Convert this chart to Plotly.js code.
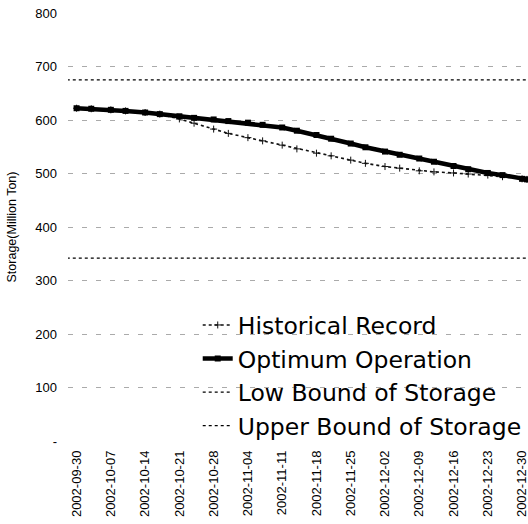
<!DOCTYPE html>
<html>
<head>
<meta charset="utf-8">
<script src="https://cdn.plot.ly/plotly-3.0.1.min.js"></script>
<style>html,body{margin:0;padding:0;background:#fff;}#chart{width:528px;height:524px;}</style>
</head>
<body>
<div id="chart"></div>
<script>
const dates = ['2002-09-30','2002-10-03','2002-10-07','2002-10-10','2002-10-14','2002-10-17','2002-10-21','2002-10-24','2002-10-28','2002-10-31','2002-11-04','2002-11-07','2002-11-11','2002-11-14','2002-11-18','2002-11-21','2002-11-25','2002-11-28','2002-12-02','2002-12-05','2002-12-09','2002-12-12','2002-12-16','2002-12-19','2002-12-23','2002-12-26','2002-12-30','2002-12-31'];
const historical = [622,621,619,617,614,611,602,594,583,575,567,561,553,546,538,533,525,519,513,510,505,503,501,499,497,494,490,489];
const optimum = [622,621,619,617,614,611,607,604,601,598,595,591,586,580,572,565,556,549,541,535,528,522,514,508,501,497,490,489];
const boundDates = ['2002-09-28','2002-12-31'];
const lowBound = [342,342];
const upperBound = [675,675];
const tickDates = ['2002-09-30','2002-10-07','2002-10-14','2002-10-21','2002-10-28','2002-11-04','2002-11-11','2002-11-18','2002-11-25','2002-12-02','2002-12-09','2002-12-16','2002-12-23','2002-12-30'];
const yTickVals = [0,100,200,300,400,500,600,700,800];
const yTickText = ['-','100','200','300','400','500','600','700','800'];

const traces = [
  {x: dates, y: historical, name: 'Historical Record', mode: 'lines+markers', type: 'scatter',
   line: {color: '#111', width: 1.6, dash: 'dot'},
   marker: {symbol: 'cross-thin', size: 5, line: {color: '#111', width: 1}}},
  {x: dates, y: optimum, name: 'Optimum Operation', mode: 'lines+markers', type: 'scatter',
   line: {color: '#000', width: 4.5},
   marker: {symbol: 'square', size: 6, color: '#000'}},
  {x: boundDates, y: lowBound, name: 'Low Bound of Storage', mode: 'lines', type: 'scatter',
   line: {color: '#000', width: 1.2, dash: 'dot'}},
  {x: boundDates, y: upperBound, name: 'Upper Bound of Storage', mode: 'lines', type: 'scatter',
   line: {color: '#000', width: 1.2, dash: 'dot'}}
];

const layout = {
  width: 528, height: 524,
  margin: {l: 68, r: 0, t: 13, b: 83},
  paper_bgcolor: '#fff', plot_bgcolor: '#fff',
  font: {family: 'Liberation Sans, Arial, sans-serif', color: '#000'},
  showlegend: true,
  legend: {x: 0.282, y: 0.322, xanchor: 'left', yanchor: 'top', bgcolor: 'rgba(0,0,0,0)',
           font: {family: 'DejaVu Sans, sans-serif', size: 23.5, color: '#000'}, tracegroupgap: 0},
  xaxis: {
    type: 'date', range: ['2002-09-28 06:00', '2002-12-31 05:00'],
    tickvals: tickDates, ticktext: tickDates, tickangle: -90,
    tickfont: {size: 13, color: '#000'}, ticklabeloverflow: 'allow',
    showgrid: false, zeroline: false, showline: false, ticks: '',
    ticklabelstandoff: 6
  },
  yaxis: {
    range: [0, 800], tickvals: yTickVals, ticktext: yTickText,
    tickfont: {size: 13, color: '#000'},
    showgrid: true, gridcolor: '#aaa', gridwidth: 1, griddash: '5px,9px',
    zeroline: false, showline: false, ticks: '', ticklabelstandoff: 10,
    title: {text: 'Storage(Million Ton)', font: {size: 12.5, color: '#000'}, standoff: 15}
  }
};

Plotly.newPlot('chart', traces, layout, {displayModeBar: false, staticPlot: true});
</script>
</body>
</html>
